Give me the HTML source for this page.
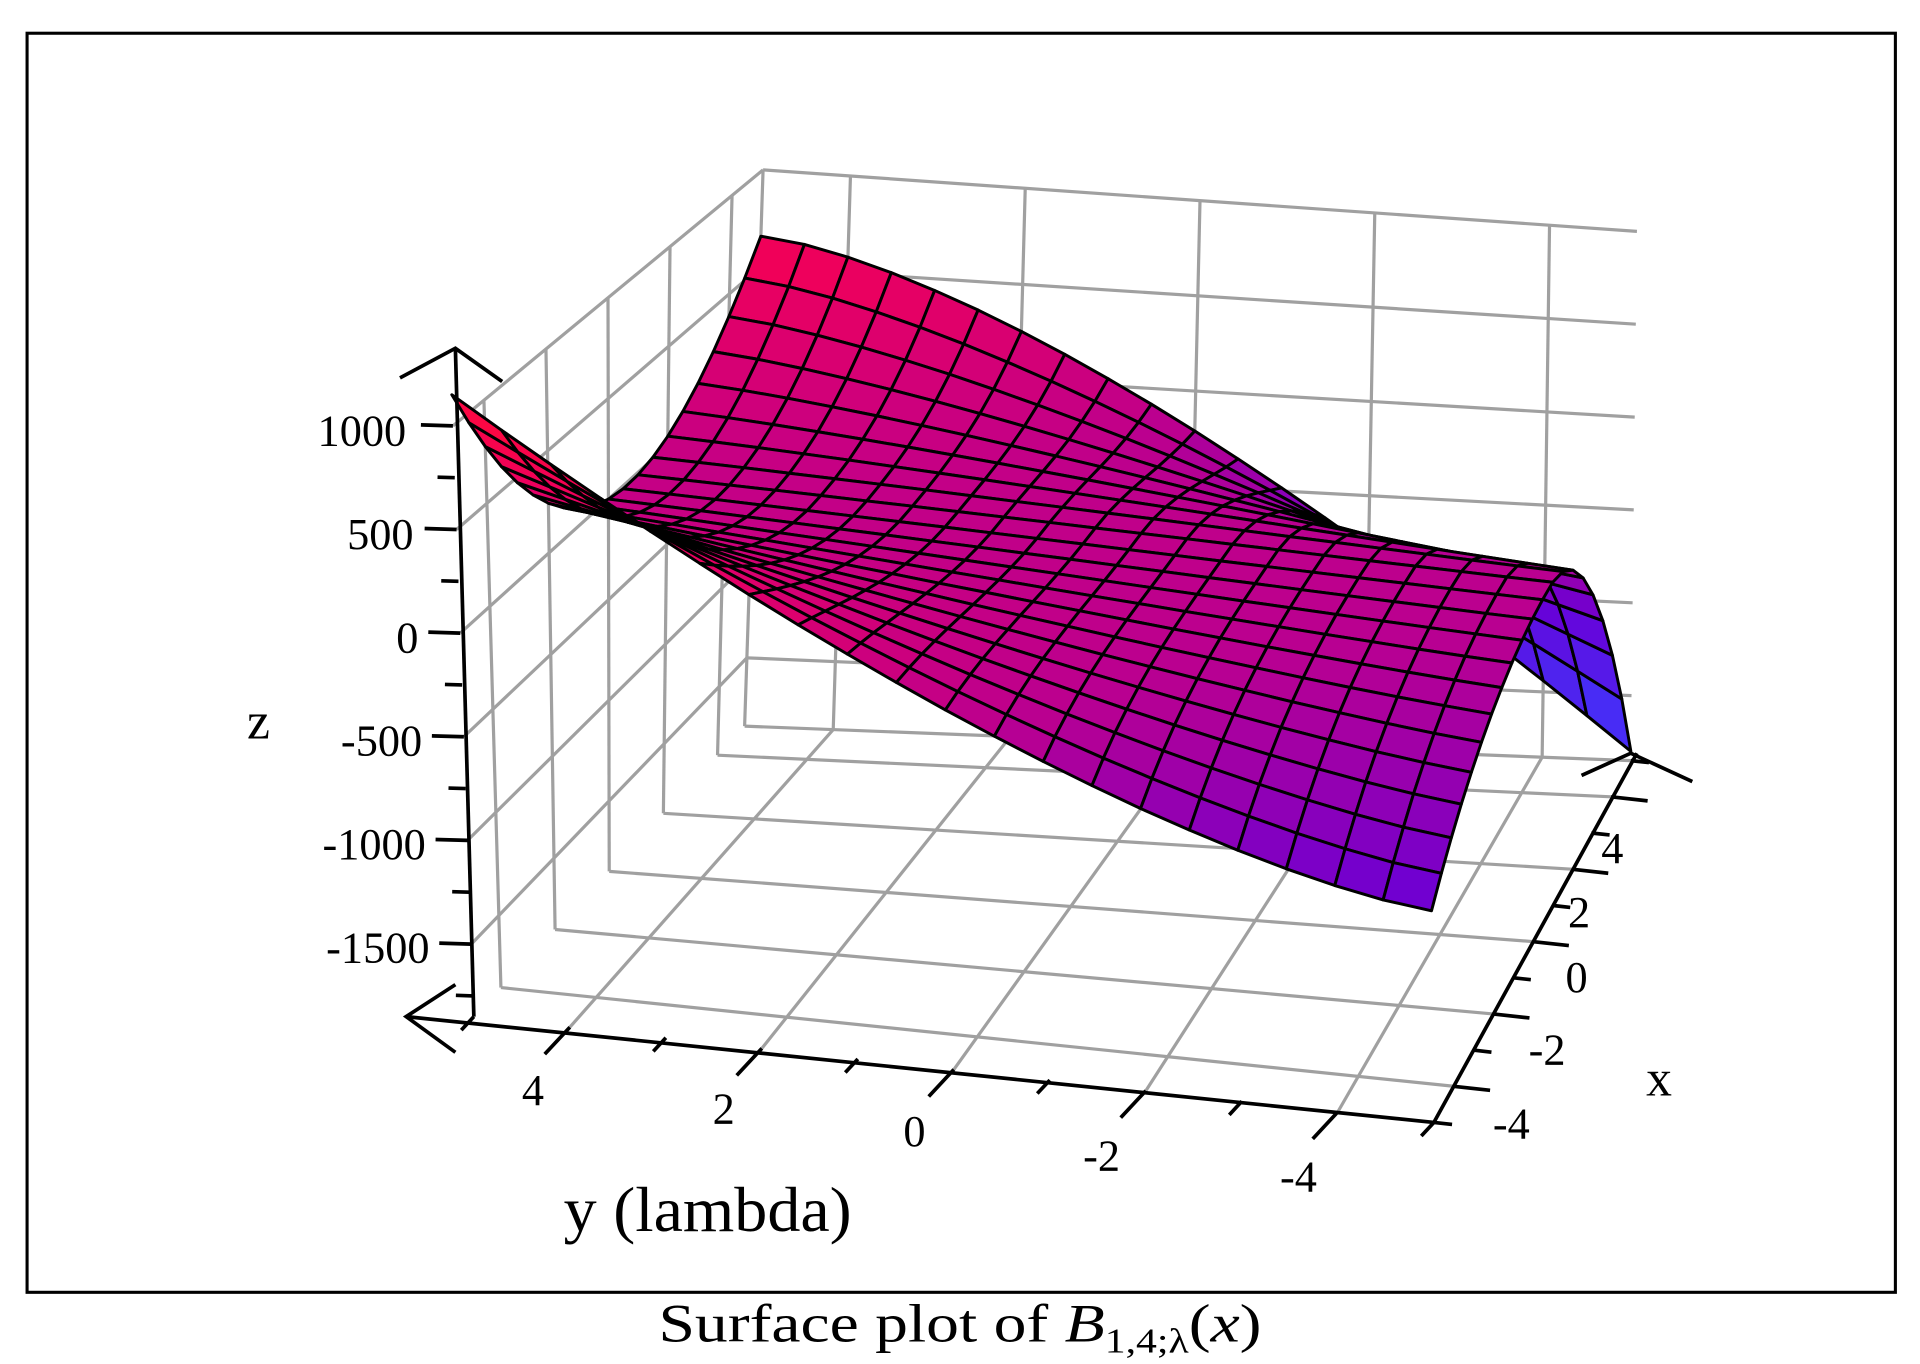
<!DOCTYPE html>
<html><head><meta charset="utf-8"><style>
html,body{margin:0;padding:0;background:#fff;}
svg{display:block;}
text{font-family:"Liberation Serif",serif;fill:#000;}
</style></head><body>
<svg id="s" width="1920" height="1364" viewBox="0 0 1560 1108.25" preserveAspectRatio="none" xmlns="http://www.w3.org/2000/svg">
<rect x="0" y="0" width="1560" height="1109" fill="#fff"/>
<rect x="22" y="27" width="1518" height="1023" fill="none" stroke="#000" stroke-width="2.5"/>
<g id="grid" stroke="#a0a0a0" stroke-width="2.6" fill="none"></g>
<g id="surf" stroke="#000" stroke-width="2.4" stroke-linejoin="round"></g>
<g id="axes" stroke="#000" stroke-width="3" fill="none"></g>
<g font-size="36">
<text x="330" y="362" text-anchor="end">1000</text>
<text x="336" y="446" text-anchor="end">500</text>
<text x="340" y="530" text-anchor="end">0</text>
<text x="343" y="614" text-anchor="end">-500</text>
<text x="346" y="698" text-anchor="end">-1000</text>
<text x="349" y="782" text-anchor="end">-1500</text>
<text x="433" y="898" text-anchor="middle">4</text>
<text x="588" y="913" text-anchor="middle">2</text>
<text x="743" y="931" text-anchor="middle">0</text>
<text x="895" y="951" text-anchor="middle">-2</text>
<text x="1055" y="968" text-anchor="middle">-4</text>
<text x="1310" y="701" text-anchor="middle">4</text>
<text x="1283" y="753" text-anchor="middle">2</text>
<text x="1281" y="806" text-anchor="middle">0</text>
<text x="1257" y="865" text-anchor="middle">-2</text>
<text x="1228" y="925" text-anchor="middle">-4</text>
</g>
<text x="210" y="600" font-size="42" text-anchor="middle">z</text>
<text x="1348" y="890" font-size="42" text-anchor="middle">x</text>
<text x="458" y="1000" font-size="52" textLength="234" lengthAdjust="spacingAndGlyphs">y (lambda)</text>
<text x="535" y="1090" font-size="44" textLength="490" lengthAdjust="spacingAndGlyphs">Surface plot of <tspan font-style="italic">B</tspan><tspan font-size="28" dy="9">1,4;λ</tspan><tspan dy="-9">(</tspan><tspan font-style="italic">x</tspan>)</text>
</svg>
<script>
(function(){
var NS="http://www.w3.org/2000/svg";
var F00=[385,826],F01=[1165,912],F11=[1325,618],F10=[605,590];
var T00=[368,346],T01=[1160,456],T11=[1330,188],T10=[620,138];
function bl(a,b,c,d,u,v){
 return [ (1-u)*(1-v)*a[0]+(1-u)*v*b[0]+u*v*c[0]+u*(1-v)*d[0],
          (1-u)*(1-v)*a[1]+(1-u)*v*b[1]+u*v*c[1]+u*(1-v)*d[1]];}
function P(x,y,z){var u=(x+5)/10,v=(5-y)/10,s=(z+1850)/2850;
 var f=bl(F00,F01,F11,F10,u,v),t=bl(T00,T01,T11,T10,u,v);
 return [f[0]+(t[0]-f[0])*s,f[1]+(t[1]-f[1])*s];}
function el(g,tag,at){var e=document.createElementNS(NS,tag);for(var k in at)e.setAttribute(k,at[k]);g.appendChild(e);return e;}
function line(g,a,b,w){var at={x1:a[0].toFixed(1),y1:a[1].toFixed(1),x2:b[0].toFixed(1),y2:b[1].toFixed(1)};if(w)at["stroke-width"]=w;el(g,"line",at);}
var G=document.getElementById("grid");
var zs=[1000,500,0,-500,-1000,-1500],ts=[-4,-2,0,2,4],ZB=-1850,ZT=1000;
ts.forEach(function(y){line(G,P(5,y,ZB),P(5,y,ZT));});
zs.forEach(function(z){line(G,P(5,5,z),P(5,-5,z));});
line(G,P(5,5,ZB),P(5,5,ZT));
ts.forEach(function(x){line(G,P(x,5,ZB),P(x,5,ZT));});
zs.forEach(function(z){line(G,P(-5,5,z),P(5,5,z));});
ts.forEach(function(x){line(G,P(x,5,ZB),P(x,-5,ZB));});
ts.forEach(function(y){line(G,P(-5,y,ZB),P(5,y,ZB));});
line(G,P(5,5,ZB),P(5,-5,ZB));
function p5(x){return 36.2*x*x-49*x;}
function pm5(x){var c=0.9;return x<=c? -150-625*Math.pow((c-x)/(5+c),2) : -150-1650*Math.pow((x-c)/(5-c),2);}
function Z(x,y){var u=(x+5)/10,v=(5-y)/10;
 var w=(1-u)*(1-Math.pow(1-v,1.45))+u*Math.pow(v,1.5);
 return (1-w)*p5(x)+w*pm5(x);}
var stops=[[0,60,60,255],[0.35,105,0,215],[0.55,185,0,145],[0.8,240,0,90],[1,255,10,60]];
function col(z){var t=(z+1800)/2950;t=Math.max(0,Math.min(1,t));
 for(var i=1;i<stops.length;i++){if(t<=stops[i][0]){var a=stops[i-1],b=stops[i],f=(t-a[0])/(b[0]-a[0]);
 return "rgb("+Math.round(a[1]+f*(b[1]-a[1]))+","+Math.round(a[2]+f*(b[2]-a[2]))+","+Math.round(a[3]+f*(b[3]-a[3]))+")";}}
 return "rgb(255,10,60)";}
var N=20,quads=[];
for(var i=0;i<N;i++)for(var j=0;j<N;j++){
 var x0=-5+10*i/N,x1=-5+10*(i+1)/N,y0=-5+10*j/N,y1=-5+10*(j+1)/N;
 var c=[[x0,y0],[x1,y0],[x1,y1],[x0,y1]];var pts=[],zsum=0;
 c.forEach(function(q){var z=Z(q[0],q[1]);zsum+=z;var p=P(q[0],q[1],z);pts.push(p[0].toFixed(1)+","+p[1].toFixed(1));});
 var zm=zsum/4,xm=(x0+x1)/2,ym=(y0+y1)/2;
 var u=(xm+5)/10,v=(5-ym)/10,s=(zm+1850)/2850;
 quads.push({d:u+0.8*(1-v)-0.5*s,pts:pts.join(" "),c:col(zm)});}
quads.sort(function(a,b){return b.d-a.d;});
var S=document.getElementById("surf");
quads.forEach(function(q){el(S,"polygon",{points:q.pts,fill:q.c});});
var A=document.getElementById("axes");
line(A,P(-5,5,ZB),[370,283]);
el(A,"polyline",{points:"325,307 370,283 408,310"});
line(A,[330,826],P(-5,-5,ZB));
el(A,"polyline",{points:"370,800 330,826 370,855"});
line(A,P(-5,-5,ZB),[1330,612]);
el(A,"polyline",{points:"1285,630 1325,612 1375,635"});
for(var z=-1750;z<=1000;z+=250){var p=P(-5,5,z);var L=(z%500===0)?26:14;line(A,p,[p[0]-L,p[1]-L*0.03]);}
for(var y=-5;y<=5;y+=1){var p=P(-5,y,ZB);var L=(y%2===0)?30:15;line(A,p,[p[0]-0.68*L,p[1]+0.73*L]);}
for(var x=-5;x<=5;x+=1){var p=P(x,-5,ZB);var L=(x%2===0)?30:15;line(A,p,[p[0]+0.99*L,p[1]+0.11*L]);}
})();
</script>
</body></html>
